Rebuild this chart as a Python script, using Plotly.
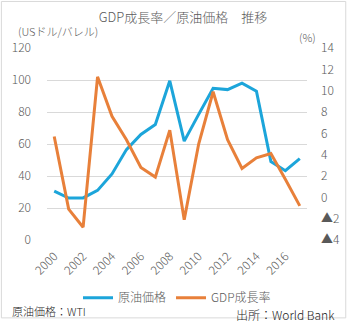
import plotly.graph_objects as go

years = list(range(2000, 2018))
oil_price = [30.5, 26.2, 26.3, 31.0, 41.3, 56.5, 66.0, 72.2, 99.5, 61.8, 78.5, 94.8, 94.0, 98.0, 93.0, 49.0, 43.3, 50.8]
gdp_growth = [5.7, -1.1, -2.8, 11.3, 7.6, 5.4, 2.8, 1.9, 6.3, -2.1, 5.0, 9.9, 5.4, 2.7, 3.7, 4.1, 1.7, -0.8]

left_ticks = [0, 20, 40, 60, 80, 100, 120]
right_ticks = [-4, -2, 0, 2, 4, 6, 8, 10, 12, 14]
right_ticktext = [("▲" + str(-v)) if v < 0 else str(v) for v in right_ticks]
x_ticks = list(range(2000, 2017, 2))

BLUE = "#1CA5DA"
ORANGE = "#E8803A"
GRAY = "#595959"
FONT = "Noto Sans CJK JP"
W = 300

fig = go.Figure()
fig.add_trace(go.Scatter(x=years, y=oil_price, name="原油価格", mode="lines",
                         line=dict(color=BLUE, width=3), yaxis="y"))
fig.add_trace(go.Scatter(x=years, y=gdp_growth, name="GDP成長率", mode="lines",
                         line=dict(color=ORANGE, width=3), yaxis="y2"))

fig.update_layout(
    width=352, height=324,
    margin=dict(l=47, r=40, t=48, b=80),
    paper_bgcolor="white", plot_bgcolor="white",
    font=dict(family=FONT, color=GRAY, size=12, weight=W),
    title=dict(text="GDP成長率／原油価格　推移", x=0.52, xanchor="center",
               y=1 - 17 / 324, yanchor="middle", font=dict(size=13, color=GRAY, weight=W)),
    xaxis=dict(range=[1999.5, 2017.5], tickvals=x_ticks, tickangle=-45,
               showgrid=False, zeroline=False, showline=False, ticks="",
               ticklabelstandoff=6,
               tickfont=dict(size=12, color=GRAY, weight=W)),
    yaxis=dict(range=[0, 120], tickvals=left_ticks, showgrid=True, gridcolor="#D9D9D9",
               gridwidth=1, zeroline=False, showline=False, ticks="",
               ticklabelstandoff=15,
               tickfont=dict(size=12, color=GRAY, weight=W)),
    yaxis2=dict(range=[-4, 14], tickvals=right_ticks, ticktext=right_ticktext,
                overlaying="y", side="right", showgrid=False, zeroline=False,
                showline=False, ticks="", ticklabelstandoff=13,
                tickfont=dict(size=12, color=GRAY, weight=W)),
    legend=dict(orientation="h", x=0.5, xanchor="center", y=-(303 - 244) / 196,
                yanchor="middle", font=dict(size=12, color=GRAY, weight=W),
                bgcolor="rgba(0,0,0,0)", itemwidth=30, tracegroupgap=0),
    showlegend=True,
    shapes=[dict(type="rect", xref="paper", yref="paper",
                 x0=-46.5 / 265, x1=(351.5 - 47) / 265,
                 y0=-(323.5 - 244) / 196, y1=(244 - 0.5) / 196,
                 line=dict(color="#D9D9D9", width=1), fillcolor="rgba(0,0,0,0)",
                 layer="below")],
    annotations=[
        dict(text="(USドル/バレル)", xref="paper", yref="paper",
             x=-32 / 265, y=(244 - 31) / 196, xanchor="left", yanchor="middle",
             showarrow=False, font=dict(size=11, color=GRAY, weight=W)),
        dict(text="(%)", xref="paper", yref="paper",
             x=(302 - 47) / 265, y=(244 - 37) / 196, xanchor="left", yanchor="middle",
             showarrow=False, font=dict(size=11, color=GRAY, weight=W)),
        dict(text="原油価格：WTI", xref="paper", yref="paper",
             x=-38 / 265, y=-(316 - 244) / 196, xanchor="left", yanchor="middle",
             showarrow=False, font=dict(size=11, color="#222222", weight=W)),
        dict(text="出所：World Bank", xref="paper", yref="paper",
             x=(343 - 47) / 265, y=-(320 - 244) / 196, xanchor="right", yanchor="middle",
             showarrow=False, font=dict(size=12, color="#222222", weight=W)),
    ],
)

fig.write_html("out.html")
